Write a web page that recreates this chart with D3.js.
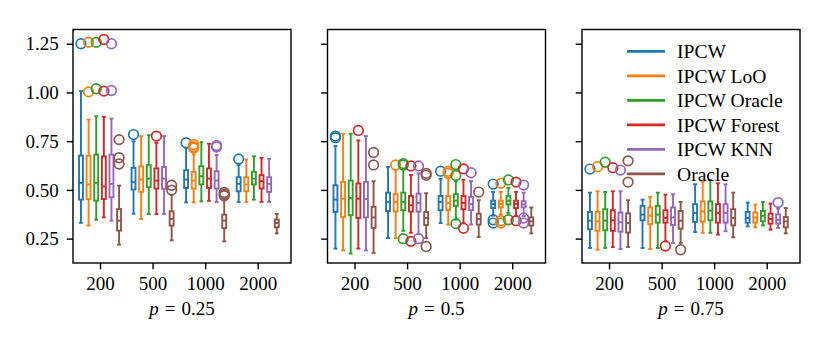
<!DOCTYPE html>
<html>
<head>
<meta charset="utf-8">
<script src="https://cdn.jsdelivr.net/npm/d3@7"></script>
<style>
  body { margin: 0; background: #fff; }
  svg { display: block; }
</style>
</head>
<body>
<div id="chart"></div>
<script>
// Categories
var sampleSizes = ['200', '500', '1000', '2000'];
var methods = ['IPCW', 'IPCW LoO', 'IPCW Oracle', 'IPCW Forest', 'IPCW KNN', 'Oracle'];
var colors = ['#1f77b4', '#ff7f0e', '#2ca02c', '#d62728', '#9467bd', '#8c564b'];
var panelLabels = ['0.25', '0.5', '0.75'];
var yTicks = [0.25, 0.5, 0.75, 1.0, 1.25];

// Box stats per sample size, per method: [whisker low, q1, median, q3, whisker high]
var stats_p25 = [
    [[0.331, 0.450, 0.536, 0.676, 1.007], [0.317, 0.453, 0.528, 0.676, 0.861], [0.347, 0.445, 0.536, 0.681, 0.878],
     [0.359, 0.453, 0.518, 0.672, 0.875], [0.342, 0.462, 0.531, 0.681, 0.866], [0.219, 0.291, 0.342, 0.402, 0.522]],
    [[0.378, 0.502, 0.540, 0.613, 0.750], [0.351, 0.490, 0.553, 0.621, 0.776], [0.376, 0.514, 0.558, 0.627, 0.781],
     [0.376, 0.507, 0.548, 0.610, 0.742], [0.376, 0.506, 0.558, 0.617, 0.776], [0.241, 0.317, 0.351, 0.390, 0.475]],
    [[0.436, 0.510, 0.553, 0.601, 0.716], [0.436, 0.507, 0.548, 0.593, 0.682], [0.441, 0.528, 0.570, 0.622, 0.745],
     [0.444, 0.510, 0.558, 0.610, 0.737], [0.438, 0.507, 0.548, 0.596, 0.679], [0.236, 0.304, 0.342, 0.373, 0.456]],
    [[0.438, 0.493, 0.531, 0.565, 0.627], [0.438, 0.493, 0.528, 0.565, 0.656], [0.450, 0.528, 0.558, 0.593, 0.673],
     [0.438, 0.507, 0.545, 0.576, 0.664], [0.438, 0.490, 0.531, 0.565, 0.659], [0.277, 0.308, 0.330, 0.348, 0.377]]
];
var outliers_p25 = [
    [[1.25], [1.258, 1.003], [1.257, 1.019], [1.272, 1.007], [1.25, 1.01], [0.758, 0.665, 0.633]],
    [[0.784], [], [], [0.776], [], [0.524, 0.499]],
    [[0.742], [0.733, 0.722, 0.715], [], [], [0.728, 0.72], [0.487, 0.478, 0.47]],
    [[0.659], [], [], [], [], []]
];

var stats_p50 = [
    [[0.199, 0.387, 0.450, 0.524, 0.725], [0.190, 0.361, 0.455, 0.541, 0.788], [0.173, 0.370, 0.459, 0.548, 0.788],
     [0.199, 0.356, 0.455, 0.533, 0.754], [0.190, 0.359, 0.453, 0.541, 0.776], [0.177, 0.305, 0.359, 0.413, 0.545]],
    [[0.253, 0.392, 0.438, 0.486, 0.618], [0.253, 0.389, 0.438, 0.478, 0.601], [0.290, 0.396, 0.438, 0.486, 0.606],
     [0.280, 0.389, 0.421, 0.469, 0.577], [0.275, 0.389, 0.433, 0.481, 0.585], [0.253, 0.320, 0.356, 0.387, 0.483]],
    [[0.330, 0.396, 0.438, 0.469, 0.557], [0.322, 0.396, 0.433, 0.469, 0.562], [0.347, 0.418, 0.445, 0.478, 0.545],
     [0.330, 0.401, 0.433, 0.469, 0.552], [0.322, 0.396, 0.428, 0.464, 0.545], [0.258, 0.322, 0.351, 0.378, 0.447]],
    [[0.368, 0.407, 0.428, 0.445, 0.490], [0.373, 0.410, 0.428, 0.445, 0.490], [0.382, 0.425, 0.445, 0.469, 0.510],
     [0.365, 0.407, 0.428, 0.445, 0.490], [0.365, 0.410, 0.425, 0.442, 0.486], [0.277, 0.317, 0.339, 0.359, 0.410]]
];
var outliers_p50 = [
    [[0.776, 0.768], [], [], [0.805], [], [0.692, 0.628]],
    [[], [0.628], [0.635, 0.628, 0.25], [0.623, 0.236], [0.623, 0.25], [0.585, 0.575, 0.21]],
    [[0.596], [0.596, 0.586], [0.63, 0.574, 0.327], [0.608, 0.303], [0.588], [0.489]],
    [[0.53, 0.347, 0.33], [0.534, 0.342, 0.33], [0.551, 0.347], [0.54, 0.342], [0.525, 0.356, 0.33], []]
];

var stats_p75 = [
    [[0.202, 0.298, 0.342, 0.387, 0.486], [0.193, 0.290, 0.339, 0.387, 0.493], [0.202, 0.293, 0.342, 0.401, 0.490],
     [0.207, 0.290, 0.344, 0.396, 0.493], [0.197, 0.286, 0.334, 0.384, 0.493], [0.207, 0.281, 0.330, 0.380, 0.447]],
    [[0.202, 0.344, 0.373, 0.418, 0.450], [0.197, 0.324, 0.368, 0.410, 0.464], [0.202, 0.332, 0.373, 0.418, 0.486],
     [0.236, 0.332, 0.356, 0.396, 0.476], [0.228, 0.320, 0.359, 0.410, 0.478], [0.228, 0.301, 0.342, 0.392, 0.438]],
    [[0.284, 0.336, 0.382, 0.427, 0.529], [0.280, 0.337, 0.390, 0.441, 0.543], [0.280, 0.344, 0.394, 0.441, 0.551],
     [0.271, 0.332, 0.382, 0.427, 0.534], [0.288, 0.332, 0.382, 0.427, 0.529], [0.257, 0.318, 0.356, 0.401, 0.486]],
    [[0.313, 0.332, 0.356, 0.387, 0.435], [0.308, 0.332, 0.359, 0.384, 0.425], [0.318, 0.339, 0.368, 0.392, 0.438],
     [0.296, 0.327, 0.351, 0.378, 0.430], [0.305, 0.327, 0.347, 0.375, 0.404], [0.277, 0.308, 0.339, 0.361, 0.407]]
];
var outliers_p75 = [
    [[0.607], [0.619], [0.642], [0.614], [0.602], [0.649, 0.54]],
    [[], [], [], [0.212], [], [0.193]],
    [[], [], [], [], [], []],
    [[], [], [], [], [0.435], []]
];

var allStats = [stats_p25, stats_p50, stats_p75];
var allOutliers = [outliers_p25, outliers_p50, outliers_p75];

// Layout
var fullWidth = 830;
var fullHeight = 346;
var panelLeft = [73, 327.5, 582];
var panelWidth = 218;
var plotTop = 29.5;
var plotBottom = 263;
var font = "'Liberation Serif', serif";
var fontSize = 19;
var legendFontSize = 19.6;
var lw = 1.9;

var svg = d3.select('#chart').append('svg')
    .attr('width', fullWidth)
    .attr('height', fullHeight);

var yScale = d3.scaleLinear()
    .domain([0.125, 1.323])
    .range([plotBottom, plotTop]);

// x in "group units": group i sits at i, methods spread around it
var xScale = d3.scaleLinear()
    .domain([-0.514, 3.633])
    .range([0, panelWidth]);

var step = 0.145;
var boxW = xScale(0.075) - xScale(0);
var capW = boxW / 2;

allStats.forEach(function (stats, p) {
    var g = svg.append('g')
        .attr('transform', 'translate(' + panelLeft[p] + ',0)');

    // y axis
    var yAxis = d3.axisLeft(yScale)
        .tickValues(yTicks)
        .tickSize(6.3)
        .tickPadding(8)
        .tickFormat(p == 0 ? d3.format('.2f') : function () { return ''; });
    var yAxisEle = g.append('g').call(yAxis);
    yAxisEle.attr('font-family', font).attr('font-size', fontSize);
    yAxisEle.select('.domain').remove();
    yAxisEle.selectAll('line').attr('stroke-width', 1.4);
    yAxisEle.selectAll('text').attr('fill', '#000');

    // x axis
    var xAxis = d3.axisBottom(xScale)
        .tickValues([0, 1, 2, 3])
        .tickSize(6.3)
        .tickPadding(7)
        .tickFormat(function (d) { return sampleSizes[d]; });
    var xAxisEle = g.append('g')
        .attr('transform', 'translate(0,' + plotBottom + ')')
        .call(xAxis);
    xAxisEle.attr('font-family', font).attr('font-size', fontSize);
    xAxisEle.select('.domain').remove();
    xAxisEle.selectAll('line').attr('stroke-width', 1.4);
    xAxisEle.selectAll('text').attr('fill', '#000');

    // x label: p = ... (math-style spacing around the equals sign)
    var xText = g.append('text')
        .attr('x', panelWidth / 2)
        .attr('y', 314.5)
        .attr('text-anchor', 'middle')
        .attr('font-family', font)
        .attr('font-size', fontSize);
    xText.append('tspan').attr('font-style', 'italic').text('p');
    xText.append('tspan').attr('dx', 6).text('=');
    xText.append('tspan').attr('dx', 6).text(panelLabels[p]);

    // boxes, one series per method
    methods.forEach(function (m, j) {
        var color = colors[j];
        var mg = g.append('g')
            .attr('stroke', color)
            .attr('stroke-width', lw)
            .attr('fill', 'none');

        stats.forEach(function (groupStats, i) {
            var s = groupStats[j];
            var cx = xScale(i + (j - 2.5) * step);

            // whiskers
            mg.append('line')
                .attr('x1', cx).attr('x2', cx)
                .attr('y1', yScale(s[0])).attr('y2', yScale(s[1]));
            mg.append('line')
                .attr('x1', cx).attr('x2', cx)
                .attr('y1', yScale(s[3])).attr('y2', yScale(s[4]));

            // caps
            [s[0], s[4]].forEach(function (v) {
                mg.append('line')
                    .attr('x1', cx - capW / 2).attr('x2', cx + capW / 2)
                    .attr('y1', yScale(v)).attr('y2', yScale(v))
                    .attr('stroke-linecap', 'square');
            });

            // box
            mg.append('rect')
                .attr('x', cx - boxW / 2)
                .attr('width', boxW)
                .attr('y', yScale(s[3]))
                .attr('height', yScale(s[1]) - yScale(s[3]));

            // median
            mg.append('line')
                .attr('x1', cx - boxW / 2).attr('x2', cx + boxW / 2)
                .attr('y1', yScale(s[2])).attr('y2', yScale(s[2]));

            // outliers
            allOutliers[p][i][j].forEach(function (v) {
                mg.append('circle')
                    .attr('cx', cx)
                    .attr('cy', yScale(v))
                    .attr('r', 4.8)
                    .attr('stroke-width', 1.7);
            });
        });
    });

    // frame
    g.append('rect')
        .attr('x', 0)
        .attr('y', plotTop)
        .attr('width', panelWidth)
        .attr('height', plotBottom - plotTop)
        .attr('fill', 'none')
        .attr('stroke', '#000')
        .attr('stroke-width', 1.4);
});

// Legend in the last panel
var legend = svg.append('g')
    .attr('transform', 'translate(' + panelLeft[2] + ',0)');

methods.forEach(function (m, j) {
    var ly = 51.3 + j * 24.5;
    legend.append('line')
        .attr('x1', 45).attr('x2', 83)
        .attr('y1', ly).attr('y2', ly)
        .attr('stroke', colors[j])
        .attr('stroke-width', 2.7);
    legend.append('text')
        .attr('x', 95)
        .attr('y', ly)
        .attr('dy', '0.35em')
        .attr('font-family', font)
        .attr('font-size', legendFontSize)
        .text(m);
});
</script>
</body>
</html>
